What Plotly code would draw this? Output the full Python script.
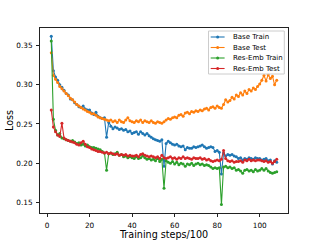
import plotly.graph_objects as go

steps = list(range(2, 109))

base_train = [
    0.362, 0.318, 0.310, 0.306, 0.300, 0.297, 0.293, 0.289, 0.287, 0.282,
    0.281, 0.277, 0.275, 0.272, 0.271, 0.273, 0.269, 0.268, 0.268, 0.264,
    0.262, 0.265, 0.260, 0.258, 0.257, 0.258, 0.233, 0.252, 0.247, 0.244,
    0.246, 0.245, 0.243, 0.244, 0.242, 0.243, 0.240, 0.241, 0.238, 0.239,
    0.240, 0.237, 0.240, 0.238, 0.236, 0.238, 0.235, 0.233, 0.231, 0.230,
    0.229, 0.228, 0.230, 0.196, 0.225, 0.228, 0.226, 0.224, 0.223, 0.224,
    0.222, 0.221, 0.222, 0.217, 0.220, 0.219, 0.219, 0.221, 0.220, 0.221,
    0.222, 0.223, 0.221, 0.219, 0.220, 0.221, 0.220, 0.215, 0.216, 0.214,
    0.186, 0.213, 0.209, 0.211, 0.210, 0.211, 0.209, 0.208, 0.206, 0.207,
    0.204, 0.206, 0.205, 0.207, 0.206, 0.205, 0.207, 0.206, 0.206, 0.204,
    0.205, 0.206, 0.203, 0.204, 0.199, 0.203, 0.201,
]

base_test = [
    0.341, 0.312, 0.307, 0.303, 0.298, 0.295, 0.292, 0.289, 0.286, 0.283,
    0.281, 0.278, 0.275, 0.273, 0.271, 0.269, 0.268, 0.266, 0.265, 0.263,
    0.263, 0.261, 0.259, 0.258, 0.257, 0.256, 0.255, 0.254, 0.255, 0.253,
    0.254, 0.252, 0.255, 0.253, 0.252, 0.255, 0.258, 0.254, 0.253, 0.252,
    0.254, 0.253, 0.255, 0.252, 0.254, 0.253, 0.252, 0.254, 0.252, 0.251,
    0.253, 0.252, 0.251, 0.253, 0.255, 0.257, 0.256, 0.258, 0.259, 0.258,
    0.261, 0.262, 0.260, 0.264, 0.265, 0.263, 0.266, 0.265, 0.267, 0.266,
    0.268, 0.267, 0.269, 0.270, 0.268, 0.271, 0.272, 0.270, 0.273, 0.271,
    0.270, 0.275, 0.281, 0.278, 0.280, 0.284, 0.282, 0.287, 0.285, 0.290,
    0.287, 0.292, 0.289, 0.294, 0.292, 0.296, 0.294, 0.298, 0.301, 0.306,
    0.312, 0.305, 0.313, 0.308, 0.311, 0.300, 0.306,
]

resemb_train = [
    0.356, 0.256, 0.242, 0.236, 0.238, 0.232, 0.231, 0.230, 0.229, 0.228,
    0.229, 0.227, 0.225, 0.226, 0.223, 0.224, 0.222, 0.223, 0.221, 0.220,
    0.220, 0.219, 0.218, 0.217, 0.215, 0.213, 0.191, 0.212, 0.213, 0.211,
    0.212, 0.214, 0.210, 0.211, 0.208, 0.209, 0.207, 0.208, 0.207, 0.206,
    0.208, 0.206, 0.207, 0.209, 0.207, 0.205, 0.206, 0.204, 0.205, 0.203,
    0.206, 0.202, 0.205, 0.168, 0.203, 0.201, 0.200, 0.202, 0.199, 0.201,
    0.198, 0.200, 0.199, 0.196, 0.199, 0.198, 0.200, 0.197, 0.199, 0.200,
    0.198, 0.199, 0.197, 0.198, 0.197, 0.195, 0.193, 0.194, 0.193, 0.194,
    0.147, 0.195, 0.196, 0.194, 0.195, 0.193, 0.194, 0.191, 0.192, 0.190,
    0.187, 0.191, 0.192, 0.190, 0.191, 0.189, 0.192, 0.190, 0.191, 0.193,
    0.191, 0.193, 0.190, 0.188, 0.187, 0.188, 0.189,
]

resemb_test = [
    0.268, 0.246, 0.240, 0.236, 0.234, 0.251, 0.232, 0.230, 0.229, 0.228,
    0.227, 0.226, 0.224, 0.223, 0.226, 0.228, 0.224, 0.221, 0.220, 0.218,
    0.217, 0.216, 0.215, 0.215, 0.214, 0.213, 0.214, 0.212, 0.213, 0.212,
    0.211, 0.212, 0.210, 0.211, 0.210, 0.211, 0.209, 0.210, 0.209, 0.209,
    0.210, 0.208, 0.211, 0.212, 0.210, 0.209, 0.208, 0.209, 0.208, 0.207,
    0.208, 0.206, 0.210, 0.207, 0.206, 0.207, 0.208, 0.206, 0.207, 0.205,
    0.207, 0.206, 0.208, 0.206, 0.207, 0.206, 0.205, 0.207, 0.206, 0.206,
    0.207, 0.205, 0.206, 0.204, 0.205, 0.203, 0.202, 0.203, 0.204, 0.203,
    0.205, 0.216, 0.206, 0.203, 0.202, 0.203, 0.201, 0.202, 0.202, 0.203,
    0.201, 0.204, 0.203, 0.205, 0.203, 0.204, 0.203, 0.204, 0.204, 0.203,
    0.202, 0.203, 0.201, 0.202, 0.200, 0.202, 0.205,
]

series_names = ["Base Train", "Base Test", "Res-Emb Train", "Res-Emb Test"]
series_colors = ["#1f77b4", "#ff7f0e", "#2ca02c", "#d62728"]
series_values = [base_train, base_test, resemb_train, resemb_test]

x_ticks = [0, 20, 40, 60, 80, 100]
y_ticks = [0.15, 0.20, 0.25, 0.30, 0.35]

FONT = "DejaVu Sans"
W, H = 320, 240
ML, MR, MT, MB = 40, 32, 28, 27
PW, PH = W - ML - MR, H - MT - MB


def px_to_paper(px, py):
    return (px - ML) / PW, 1 - (py - MT) / PH


fig = go.Figure()
for name, color, vals in zip(series_names, series_colors, series_values):
    fig.add_trace(go.Scatter(
        x=steps, y=vals, name=name, mode="lines+markers",
        line=dict(color=color, width=1.1),
        marker=dict(color=color, size=3),
    ))

axis_common = dict(
    showline=True, mirror=True, linecolor="#222222", linewidth=1,
    ticks="outside", ticklen=3, tickwidth=1, tickcolor="#222222",
    showgrid=False, zeroline=False, ticklabelstandoff=2, automargin=False,
    tickfont=dict(family=FONT, size=7.3, color="#000000"),
)

# Legend drawn in matplotlib style (box, short line+marker handles, labels)
shapes = []
annotations = []
bx0, by1 = px_to_paper(208.5, 31)
bx1, by0 = px_to_paper(284.3, 74)
shapes.append(dict(type="rect", xref="paper", yref="paper",
                   x0=bx0, x1=bx1, y0=by0, y1=by1,
                   fillcolor="rgba(255,255,255,0.8)",
                   line=dict(color="#cccccc", width=1), layer="above"))
row_y = [37.0, 47.5, 58.0, 68.5]
for name, color, ry in zip(series_names, series_colors, row_y):
    lx0, ly = px_to_paper(210.7, ry)
    lx1, _ = px_to_paper(224.6, ry)
    cx, _ = px_to_paper(217.65, ry)
    tx, _ = px_to_paper(230.5, ry)
    shapes.append(dict(type="line", xref="paper", yref="paper",
                       x0=lx0, x1=lx1, y0=ly, y1=ly,
                       line=dict(color=color, width=1.1), layer="above"))
    shapes.append(dict(type="circle", xref="paper", yref="paper",
                       xsizemode="pixel", ysizemode="pixel",
                       xanchor=cx, yanchor=ly, x0=-1.5, x1=1.5, y0=-1.5, y1=1.5,
                       fillcolor=color, line=dict(color=color, width=0), layer="above"))
    annotations.append(dict(xref="paper", yref="paper", x=tx, y=ly,
                            xanchor="left", yanchor="middle", showarrow=False,
                            text=name, font=dict(family=FONT, size=7, color="#000000")))

fig.update_layout(
    width=W, height=H,
    margin=dict(l=ML, r=MR, t=MT, b=MB, autoexpand=False),
    paper_bgcolor="white", plot_bgcolor="white",
    font=dict(family=FONT, size=7, color="#000000"),
    showlegend=False,
    xaxis=dict(
        range=[-3.3, 113.3], tickvals=x_ticks,
        title=dict(text="Training steps/100", font=dict(family=FONT, size=9.6), standoff=0),
        **axis_common,
    ),
    yaxis=dict(
        range=[0.1363, 0.3726], tickvals=y_ticks, tickformat=".2f",
        title=dict(text="Loss", font=dict(family=FONT, size=9.6), standoff=0),
        **axis_common,
    ),
    shapes=shapes,
    annotations=annotations,
)

fig.write_html(
    "out.html",
    config={"displayModeBar": False},
    post_script="document.body.style.margin='0';document.body.style.padding='0';"
                "document.body.style.overflow='hidden';",
)
